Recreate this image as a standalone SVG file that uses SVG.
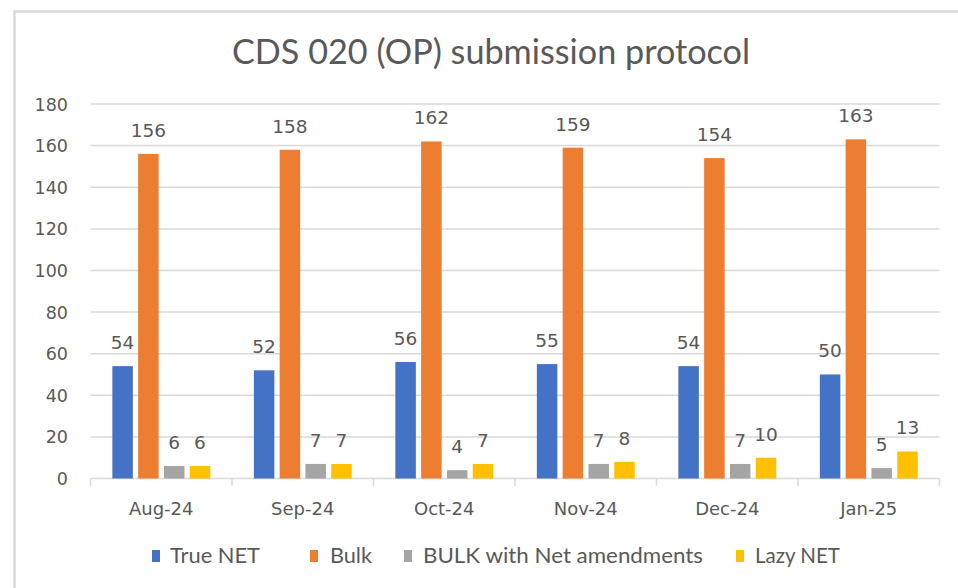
<svg xmlns="http://www.w3.org/2000/svg" width="958" height="588" viewBox="0 0 958 588">
<style>
.grid{stroke:#d9d9d9;stroke-width:1.5;fill:none}
.frame{stroke:#d9d9d9;stroke-width:2.5;fill:none}
.t{font-family:"DejaVu Sans","Liberation Sans",sans-serif;fill:#595959}
.dl{font-size:18.5px;text-anchor:middle}
.yl{font-size:17.5px;text-anchor:end}
.xl{font-size:18px;text-anchor:middle}
.lg{font-family:Lato,"Liberation Sans",sans-serif;font-size:21px;fill:#595959}
.b1{fill:#4472c4}.b2{fill:#ed7d31}.b3{fill:#a5a5a5}.b4{fill:#ffc000}
</style>
<rect x="0" y="0" width="958" height="588" fill="#ffffff"/>
<g id="frame">
<path class="frame" d="M14.5 588 V11.5 H958"/>
</g>
<g id="title">
<text x="491" y="64" text-anchor="middle" font-family="Lato, Liberation Sans, sans-serif" font-size="34" fill="#595959" textLength="518" lengthAdjust="spacingAndGlyphs">CDS 020 (OP) submission protocol</text>
</g>
<g id="gridlines">
<path class="grid" d="M90.5 104 H939.5 M90.5 145.6 H939.5 M90.5 187.2 H939.5 M90.5 228.9 H939.5 M90.5 270.5 H939.5 M90.5 312.1 H939.5 M90.5 353.7 H939.5 M90.5 395.3 H939.5 M90.5 436.9 H939.5"/>
</g>
<g id="y-axis" class="t yl">
<text x="68" y="110.5">180</text>
<text x="68" y="152.1">160</text>
<text x="68" y="193.7">140</text>
<text x="68" y="235.4">120</text>
<text x="68" y="277">100</text>
<text x="68" y="318.6">80</text>
<text x="68" y="360.2">60</text>
<text x="68" y="401.8">40</text>
<text x="68" y="443.4">20</text>
<text x="68" y="485">0</text>
</g>
<g id="x-axis">
<path class="grid" d="M90.5 478.5 H939.5 M90.5 478.5 V486 M232 478.5 V486 M373.5 478.5 V486 M515 478.5 V486 M656.5 478.5 V486 M798 478.5 V486 M939.5 478.5 V486"/>
<g class="t xl">
<text x="161.25" y="515">Aug-24</text>
<text x="302.75" y="515">Sep-24</text>
<text x="444.25" y="515">Oct-24</text>
<text x="585.75" y="515">Nov-24</text>
<text x="727.25" y="515">Dec-24</text>
<text x="868.75" y="515">Jan-25</text>
</g>
</g>
<g id="series-true-net" class="b1">
<rect x="112.35" y="366.15" width="20.5" height="112.35"/>
<rect x="253.85" y="370.31" width="20.5" height="108.19"/>
<rect x="395.35" y="361.99" width="20.5" height="116.51"/>
<rect x="536.85" y="364.07" width="20.5" height="114.43"/>
<rect x="678.35" y="366.15" width="20.5" height="112.35"/>
<rect x="819.85" y="374.47" width="20.5" height="104.03"/>
</g>
<g id="series-bulk" class="b2">
<rect x="138.15" y="153.93" width="20.5" height="324.57"/>
<rect x="279.65" y="149.77" width="20.5" height="328.73"/>
<rect x="421.15" y="141.44" width="20.5" height="337.06"/>
<rect x="562.65" y="147.68" width="20.5" height="330.82"/>
<rect x="704.15" y="158.09" width="20.5" height="320.41"/>
<rect x="845.65" y="139.36" width="20.5" height="339.14"/>
</g>
<g id="series-bulk-net" class="b3">
<rect x="163.95" y="466.02" width="20.5" height="12.48"/>
<rect x="305.45" y="463.94" width="20.5" height="14.56"/>
<rect x="446.95" y="470.18" width="20.5" height="8.32"/>
<rect x="588.45" y="463.94" width="20.5" height="14.56"/>
<rect x="729.95" y="463.94" width="20.5" height="14.56"/>
<rect x="871.45" y="468.1" width="20.5" height="10.4"/>
</g>
<g id="series-lazy-net" class="b4">
<rect x="189.75" y="466.02" width="20.5" height="12.48"/>
<rect x="331.25" y="463.94" width="20.5" height="14.56"/>
<rect x="472.75" y="463.94" width="20.5" height="14.56"/>
<rect x="614.25" y="461.86" width="20.5" height="16.64"/>
<rect x="755.75" y="457.69" width="20.5" height="20.81"/>
<rect x="897.25" y="451.45" width="20.5" height="27.05"/>
</g>
<g id="data-labels" class="t dl">
<text x="122.6" y="349.15">54</text>
<text x="148.4" y="136.93">156</text>
<text x="174.2" y="449.02">6</text>
<text x="200" y="449.02">6</text>
<text x="264.1" y="353.31">52</text>
<text x="289.9" y="132.77">158</text>
<text x="315.7" y="446.94">7</text>
<text x="341.5" y="446.94">7</text>
<text x="405.6" y="344.99">56</text>
<text x="431.4" y="124.44">162</text>
<text x="457.2" y="453.18">4</text>
<text x="483" y="446.94">7</text>
<text x="547.1" y="347.07">55</text>
<text x="572.9" y="130.68">159</text>
<text x="598.7" y="446.94">7</text>
<text x="624.5" y="444.86">8</text>
<text x="688.6" y="349.15">54</text>
<text x="714.4" y="141.09">154</text>
<text x="740.2" y="446.94">7</text>
<text x="766" y="440.69">10</text>
<text x="830.1" y="357.47">50</text>
<text x="855.9" y="122.36">163</text>
<text x="881.7" y="451.1">5</text>
<text x="907.5" y="434.45">13</text>
</g>
<g id="legend">
<rect class="b1" x="152" y="550" width="8" height="12"/>
<text class="lg" x="170" y="563" textLength="90" lengthAdjust="spacingAndGlyphs">True NET</text>
<rect class="b2" x="310" y="550" width="8" height="12"/>
<text class="lg" x="330" y="563" textLength="42" lengthAdjust="spacingAndGlyphs">Bulk</text>
<rect class="b3" x="404" y="550" width="8" height="12"/>
<text class="lg" x="423" y="563" textLength="280" lengthAdjust="spacingAndGlyphs">BULK with Net amendments</text>
<rect class="b4" x="736" y="550" width="8" height="12"/>
<text class="lg" x="755" y="563" textLength="85" lengthAdjust="spacingAndGlyphs">Lazy NET</text>
</g>
</svg>
